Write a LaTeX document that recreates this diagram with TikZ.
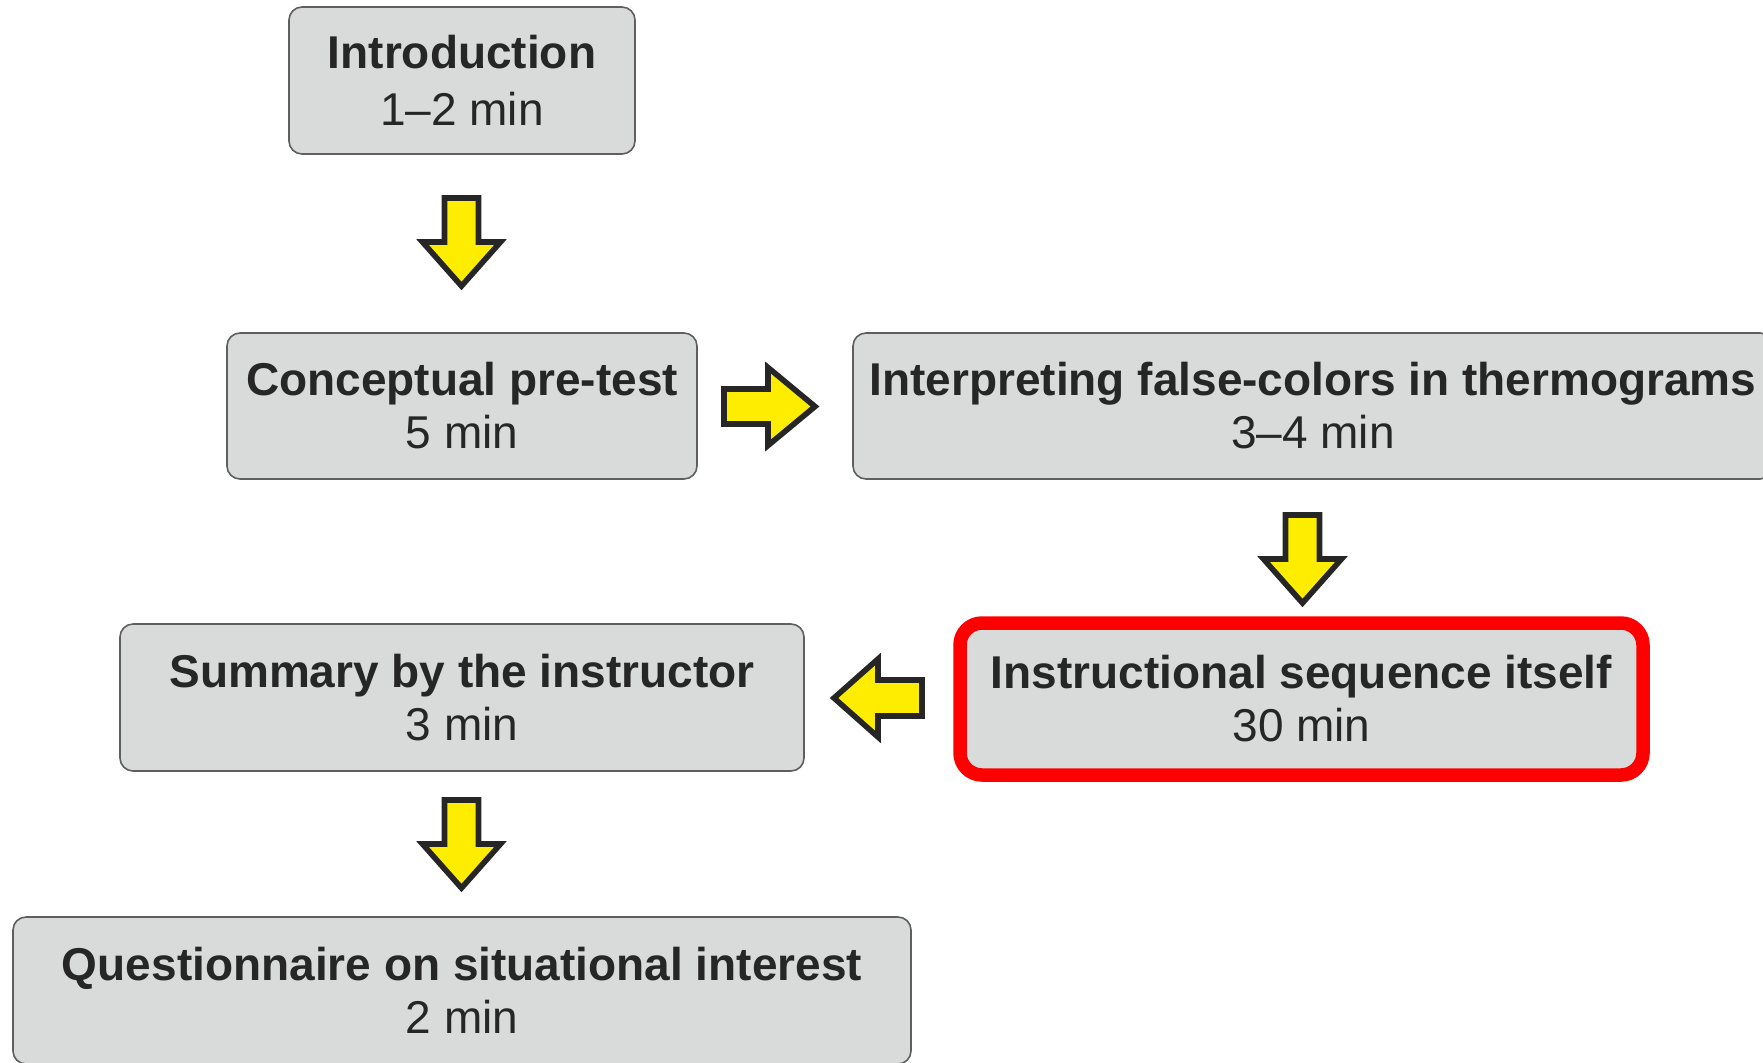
\documentclass[tikz,border=0pt]{standalone}
\usepackage{fontspec}
\setmainfont{Liberation Sans}
\definecolor{boxgray}{RGB}{217,218,218}
\definecolor{boxline}{RGB}{95,95,95}
\definecolor{txt}{RGB}{38,38,38}
\definecolor{arrowyellow}{RGB}{255,237,0}
\definecolor{hlred}{RGB}{255,0,0}
\tikzset{
  stepbox/.style={draw=boxline, fill=boxgray, line width=0.8pt, rounded corners=6.5pt,
    inner sep=0pt, align=center, text=txt, font=\fontsize{23}{26.5}\selectfont},
  hlbox/.style={stepbox, draw=hlred, line width=6.75pt, rounded corners=11pt},
  blockarrow/.style={draw=txt, fill=arrowyellow, line width=2.8pt, line join=miter},
  arrowdown/.pic={\draw[blockarrow] (-17,3) -- (17,3) -- (17,47) -- (39,47) -- (0,91) -- (-39,47) -- (-17,47) -- cycle;},
  arrowright/.pic={\draw[blockarrow] (3,-17.5) -- (47,-17.5) -- (47,-39) -- (94,0) -- (47,39) -- (47,17.5) -- (3,17.5) -- cycle;},
  arrowleft/.pic={\draw[blockarrow] (-3,-18) -- (-47,-18) -- (-47,-39) -- (-91,0) -- (-47,39) -- (-47,18) -- (-3,18) -- cycle;}
}
\begin{document}
\begin{tikzpicture}[x=0.5pt,y=-0.5pt]
\useasboundingbox (0,0) rectangle (1763,1062);
\clip (0,0) rectangle (1763,1062);
\node[stepbox, minimum width=173pt, minimum height=73.5pt, font=\fontsize{23}{28.5}\selectfont] (intro) at (462,80.5)
  {\textbf{Introduction}\\1--2 min};
\node[stepbox, minimum width=235pt, minimum height=73pt] (concept) at (462,406)
  {\textbf{Conceptual pre-test}\\5 min};
\node[stepbox, minimum width=460pt, minimum height=73pt] (interp) at (1313,406)
  {\textbf{Interpreting false-colors in thermograms}\\3--4 min};
\node[hlbox, minimum width=341.5pt, minimum height=76pt] (instr) at (1301.5,699)
  {\textbf{Instructional sequence itself}\\30 min};
\node[stepbox, minimum width=342pt, minimum height=73.5pt] (summary) at (462,697.5)
  {\textbf{Summary by the instructor}\\3 min};
\node[stepbox, minimum width=449pt, minimum height=73.5pt] (quest) at (462,990.5)
  {\textbf{Questionnaire on situational interest}\\2 min};
\coordinate (a1) at (461.5,195);
\coordinate (a2) at (721,406.5);
\coordinate (a3) at (1302.5,512);
\coordinate (a4) at (925,698);
\coordinate (a5) at (461.5,797);
\pic at (a1) {arrowdown};
\pic at (a2) {arrowright};
\pic at (a3) {arrowdown};
\pic at (a4) {arrowleft};
\pic at (a5) {arrowdown};
\end{tikzpicture}
\end{document}
